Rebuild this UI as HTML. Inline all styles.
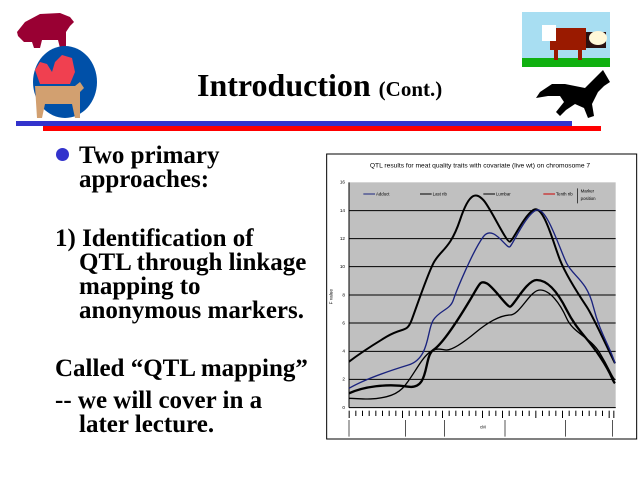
<!DOCTYPE html>
<html><head><style>
body{margin:0;width:640px;height:480px;background:#fff;position:relative;overflow:hidden;font-family:"Liberation Serif",serif;}
.t{position:absolute;font-weight:bold;font-size:25px;color:#000;white-space:nowrap;line-height:1;}
</style></head><body>
<svg width="640" height="140" style="position:absolute;left:0;top:0">
<path d="M17,32 L25,22 L40,14 L60,13 L70,17 L74,22 L70,26 L66,32 L66,48 L60,48 L58,40 L42,40 L40,48 L34,48 L32,42 L24,42 L18,36 Z" fill="#990033"/>
<ellipse cx="65" cy="82" rx="32" ry="36" fill="#0050A8"/>
<path d="M35,70 L40,62 L47,64 L52,72 L55,62 L62,55 L72,58 L75,72 L70,84 L40,84 Z" fill="#F04050"/>
<path d="M35,86 L75,86 L80,82 L84,88 L80,92 L80,118 L75,118 L72,104 L45,104 L42,118 L37,118 Z" fill="#D2A070"/>
<rect x="522" y="12" width="88" height="55" fill="#A8DEF2"/>
<rect x="522" y="58" width="88" height="9" fill="#10B010"/>
<rect x="578" y="32" width="28" height="16" fill="#2A1010"/>
<ellipse cx="598" cy="38" rx="9" ry="7" fill="#FFF8D8"/>
<rect x="550" y="28" width="36" height="22" fill="#9A1A00"/>
<rect x="554" y="50" width="4" height="10" fill="#9A1A00"/><rect x="578" y="50" width="4" height="10" fill="#9A1A00"/>
<rect x="542" y="25" width="14" height="16" fill="#fff"/>
<path d="M540,92 L552,84 L565,84 L585,88 L595,78 L603,70 L610,82 L604,86 L598,92 L592,104 L594,116 L588,118 L584,108 L575,104 L566,110 L560,116 L556,112 L564,102 L560,96 L548,96 L536,98 Z" fill="#000"/>
<rect x="16" y="121" width="556" height="5" fill="#3333CC"/>
<rect x="43" y="126" width="558" height="5" fill="#FF0000"/>
</svg>
<div class="t" style="left:197px;top:69px;font-size:32px">Introduction <span style="font-size:21px">(Cont.)</span></div>
<div style="position:absolute;left:56px;top:148px;width:13px;height:13px;border-radius:50%;background:#3333CC"></div>
<div class="t" style="left:79px;top:143px">Two primary</div>
<div class="t" style="left:79px;top:167px">approaches:</div>
<div class="t" style="left:55px;top:226px">1) Identification of</div>
<div class="t" style="left:79px;top:250px">QTL through linkage</div>
<div class="t" style="left:79px;top:274px">mapping to</div>
<div class="t" style="left:79px;top:298px">anonymous markers.</div>
<div class="t" style="left:55px;top:356px">Called “QTL mapping”</div>
<div class="t" style="left:55px;top:388px">-- we will cover in a</div>
<div class="t" style="left:79px;top:412px">later lecture.</div>
<svg width="320" height="290" viewBox="0 0 960 870" style="position:absolute;left:320px;top:150px">
<rect x="20" y="12" width="930" height="855" fill="#fff" stroke="#000" stroke-width="3"/>
<text x="480" y="52" font-family="Liberation Sans,sans-serif" font-size="20" text-anchor="middle">QTL results for meat quality traits with covariate (live wt) on chromosome 7</text>
<rect x="87" y="97" width="800" height="676" fill="#C0C0C0"/>
<g stroke="#000" stroke-width="3">
<line x1="87" y1="182" x2="887" y2="182"/><line x1="87" y1="266" x2="887" y2="266"/><line x1="87" y1="350" x2="887" y2="350"/><line x1="87" y1="435" x2="887" y2="435"/><line x1="87" y1="519" x2="887" y2="519"/><line x1="87" y1="604" x2="887" y2="604"/><line x1="87" y1="688" x2="887" y2="688"/><line x1="87" y1="773" x2="887" y2="773"/><line x1="87" y1="97" x2="87" y2="773"/>
</g>
<g font-family="Liberation Sans,sans-serif" font-size="14" text-anchor="end">
<text x="75" y="101">16</text><text x="75" y="186">14</text><text x="75" y="270">12</text><text x="75" y="354">10</text><text x="75" y="439">8</text><text x="75" y="523">6</text><text x="75" y="608">4</text><text x="75" y="692">2</text><text x="75" y="777">0</text>
</g>
<text x="38" y="440" font-size="14" font-family="Liberation Sans,sans-serif" transform="rotate(-90 38 440)" text-anchor="middle">F value</text>
<g fill="none" stroke-linejoin="round">
<path d="M87,635 C120,610 150,590 200,560 S260,550 275,510 S320,380 340,340 S390,300 420,210 S470,130 490,150 S560,280 570,275 S610,200 640,180 S700,280 720,330 S780,440 800,470 S860,590 885,640" stroke="#000" stroke-width="6"/>
<path d="M87,715 C130,690 200,665 265,645 S320,540 340,510 S390,480 400,450 S460,300 490,260 S560,300 570,290 S620,190 650,180 S720,300 740,340 S800,390 820,470 S870,590 885,640" stroke="#1a237e" stroke-width="4"/>
<path d="M87,730 C130,710 200,700 265,710 S310,620 340,600 S420,500 450,450 S480,390 500,400 S560,470 570,470 S620,390 650,390 S710,420 740,480 S800,560 840,620 S875,690 885,700" stroke="#000" stroke-width="7"/>
<path d="M87,745 C120,745 150,752 200,740 S260,700 300,640 S360,600 380,600 S440,570 470,545 S540,495 570,495 S630,420 660,420 S720,460 740,505 S810,560 840,610 S875,680 885,690" stroke="#000" stroke-width="4"/>
</g>
<g font-family="Liberation Sans,sans-serif" font-size="13">
<line x1="130" y1="132" x2="165" y2="132" stroke="#1a237e" stroke-width="3"/><text x="168" y="136">Adduct</text>
<line x1="300" y1="132" x2="335" y2="132" stroke="#000" stroke-width="3"/><text x="338" y="136">Last rib</text>
<line x1="490" y1="132" x2="525" y2="132" stroke="#000" stroke-width="3"/><text x="528" y="136">Lumbar</text>
<line x1="670" y1="132" x2="705" y2="132" stroke="#c00" stroke-width="3"/><text x="708" y="136">Tenth rib</text>
<line x1="773" y1="115" x2="773" y2="160" stroke="#000" stroke-width="2"/><text x="782" y="127">Marker</text><text x="782" y="150">position</text>
</g>
<g stroke="#000" stroke-width="2">
<line x1="87" y1="773" x2="887" y2="773"/>
<line x1="87" y1="810" x2="87" y2="860"/><line x1="257" y1="810" x2="257" y2="860"/><line x1="373" y1="810" x2="373" y2="860"/><line x1="555" y1="810" x2="555" y2="860"/><line x1="737" y1="810" x2="737" y2="860"/><line x1="878" y1="810" x2="878" y2="860"/>
</g>
<text x="480" y="835" font-size="13" font-family="Liberation Sans,sans-serif">cM</text>
<g fill="#000">
<rect x="86" y="782" width="3" height="22"/><rect x="106" y="782" width="3" height="16"/><rect x="126" y="782" width="3" height="16"/><rect x="146" y="782" width="3" height="16"/><rect x="166" y="782" width="3" height="16"/><rect x="186" y="782" width="3" height="16"/><rect x="206" y="782" width="3" height="16"/><rect x="226" y="782" width="3" height="16"/><rect x="246" y="782" width="3" height="22"/><rect x="266" y="782" width="3" height="16"/><rect x="286" y="782" width="3" height="16"/><rect x="306" y="782" width="3" height="16"/><rect x="326" y="782" width="3" height="16"/><rect x="346" y="782" width="3" height="16"/><rect x="366" y="782" width="3" height="22"/><rect x="386" y="782" width="3" height="16"/><rect x="406" y="782" width="3" height="16"/><rect x="426" y="782" width="3" height="16"/><rect x="446" y="782" width="3" height="16"/><rect x="466" y="782" width="3" height="16"/><rect x="486" y="782" width="3" height="22"/><rect x="506" y="782" width="3" height="16"/><rect x="526" y="782" width="3" height="16"/><rect x="546" y="782" width="3" height="22"/><rect x="566" y="782" width="3" height="16"/><rect x="586" y="782" width="3" height="16"/><rect x="606" y="782" width="3" height="16"/><rect x="626" y="782" width="3" height="16"/><rect x="646" y="782" width="3" height="22"/><rect x="666" y="782" width="3" height="16"/><rect x="686" y="782" width="3" height="16"/><rect x="706" y="782" width="3" height="16"/><rect x="726" y="782" width="3" height="22"/><rect x="746" y="782" width="3" height="16"/><rect x="766" y="782" width="3" height="16"/><rect x="786" y="782" width="3" height="16"/><rect x="806" y="782" width="3" height="16"/><rect x="826" y="782" width="3" height="16"/><rect x="846" y="782" width="3" height="16"/><rect x="866" y="782" width="3" height="22"/><rect x="880" y="782" width="3" height="22"/>
</g>
</svg>
</body></html>
